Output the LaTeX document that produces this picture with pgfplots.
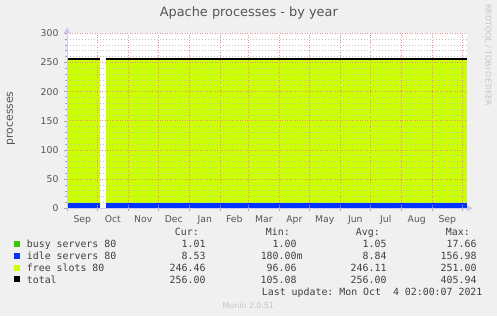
\documentclass[border=0pt]{standalone}
\usepackage{pgfplots}
\pgfplotsset{compat=1.18}
\usepackage{fontspec}
\setmainfont{DejaVu Sans}
\setmonofont{DejaVu Sans Mono}
\usetikzlibrary{arrows.meta}
\definecolor{bgc}{HTML}{F0F0F0}
\definecolor{busy}{HTML}{33CC00}
\definecolor{idle}{HTML}{0033FF}
\definecolor{free}{HTML}{CCFF00}
\definecolor{txt}{HTML}{555555}
\definecolor{legtxt}{HTML}{404040}
\definecolor{axc}{HTML}{C8C8F0}
\definecolor{majg}{HTML}{EC8C8C}
\definecolor{ming}{HTML}{C0C0C0}
\definecolor{faint}{HTML}{C4C4C4}
\begin{document}
\begin{tikzpicture}[x=1pt,y=1pt]
\fill[bgc] (0,0) rectangle (497,316);
\path[use as bounding box] (0,0) rectangle (497,316);
\begin{axis}[
  at={(67pt,107.7pt)}, anchor=south west,
  scale only axis, width=400pt, height=175pt,
  xmin=-30.3, xmax=369.7, ymin=0, ymax=300,
  axis background/.style={fill=white},
  axis on top,
  axis x line=bottom, axis y line=left,
  axis line style={draw=axc, line width=0.8pt},
  x axis line style={-{Triangle[length=6pt,width=6pt]}, shorten >=-6pt},
  y axis line style={-{Triangle[length=6pt,width=6pt]}, shorten >=-6pt},
  xtick={-30,0,31,61,92,123,151,182,212,243,273,304,335,365},
  xticklabels={Sep,Oct,Nov,Dec,Jan,Feb,Mar,Apr,May,Jun,Jul,Aug,Sep},
  x tick label as interval,
  ytick={0,50,100,150,200,250,300},
  minor y tick num=4,
  xmajorgrids, ymajorgrids, yminorgrids,
  major grid style={draw=majg, dash pattern=on 1pt off 1.5pt, line width=0.9pt},
  minor grid style={draw=ming, dash pattern=on 1pt off 2pt, line width=0.8pt},
  tick style={draw=gray!70, line width=0.6pt},
  tick align=outside, major tick length=3pt, minor tick length=2pt,
  ticklabel style={font=\fontsize{9.3}{11}\selectfont, text=txt},
  /pgf/number format/assume math mode=true,
  yticklabel style={xshift=-2pt},
  xticklabel style={yshift=-1pt},
]
% free slots (stack top = total)
\addplot[fill=free, draw=none] coordinates {(-30.3,256.00) (3,256.00)} \closedcycle;
\addplot[fill=free, draw=none] coordinates {(9,256.00) (369.7,256.00)} \closedcycle;
% idle servers (stack top = busy + idle)
\addplot[fill=idle, draw=none] coordinates {(-30.3,9.54) (3,9.54)} \closedcycle;
\addplot[fill=idle, draw=none] coordinates {(9,9.54) (369.7,9.54)} \closedcycle;
% busy servers
\addplot[fill=busy, draw=none] coordinates {(-30.3,1.01) (3,1.01)} \closedcycle;
\addplot[fill=busy, draw=none] coordinates {(9,1.01) (369.7,1.01)} \closedcycle;
% total
\addplot[black, line width=1.6pt] coordinates {(-30.3,256) (3,256)};
\addplot[black, line width=1.6pt] coordinates {(9,256) (369.7,256)};
\end{axis}
% titles
\node[text=txt, font=\fontsize{12.9}{14}\selectfont] at (248.8,302.7) {Apache processes - by year};
\node[text=txt, rotate=90, font=\fontsize{10.8}{12}\selectfont] at (11,197.7) {processes};
\node[text=faint, rotate=-90, anchor=west, inner sep=0pt, font=\fontsize{7.9}{9}\selectfont] at (488.3,312) {RRDTOOL / TOBI OETIKER};
% legend
\begin{scope}[every node/.style={inner sep=0pt, text=legtxt, font=\ttfamily\fontsize{9.9}{11}\selectfont}]
\node[anchor=mid east] at (199,83.7) {Cur:};
\node[anchor=mid east] at (290,83.7) {Min:};
\node[anchor=mid east] at (380,83.7) {Avg:};
\node[anchor=mid east] at (470,83.7) {Max:};
\fill[busy] (14,69.2) rectangle (20,75.2);
\fill[idle] (14,57.2) rectangle (20,63.2);
\fill[free] (14,45.2) rectangle (20,51.2);
\fill[black] (14,33.6) rectangle (20,39.6);
\node[anchor=mid west] at (26.7,71.3) {busy servers 80};
\node[anchor=mid west] at (26.7,59.3) {idle servers 80};
\node[anchor=mid west] at (26.7,47.3) {free slots 80};
\node[anchor=mid west] at (26.7,35.7) {total};
\node[anchor=mid east] at (205.7,71.3) {1.01};
\node[anchor=mid east] at (205.7,59.3) {8.53};
\node[anchor=mid east] at (205.7,47.3) {246.46};
\node[anchor=mid east] at (205.7,35.7) {256.00};
\node[anchor=mid east] at (296.7,71.3) {1.00};
\node[anchor=mid east] at (302.7,59.3) {180.00m};
\node[anchor=mid east] at (296.7,47.3) {96.06};
\node[anchor=mid east] at (296.7,35.7) {105.08};
\node[anchor=mid east] at (386.7,71.3) {1.05};
\node[anchor=mid east] at (386.7,59.3) {8.84};
\node[anchor=mid east] at (386.7,47.3) {246.11};
\node[anchor=mid east] at (386.7,35.7) {256.00};
\node[anchor=mid east] at (476.7,71.3) {17.66};
\node[anchor=mid east] at (476.7,59.3) {156.98};
\node[anchor=mid east] at (476.7,47.3) {251.00};
\node[anchor=mid east] at (476.7,35.7) {405.94};
\node[anchor=mid west] at (261.7,23.3) {Last update: Mon Oct\ \ 4 02:00:07 2021};
\end{scope}
\node[text=faint, font=\fontsize{7.85}{9}\selectfont] at (248.3,10.3) {Munin 2.0.51};
\end{tikzpicture}
\end{document}
